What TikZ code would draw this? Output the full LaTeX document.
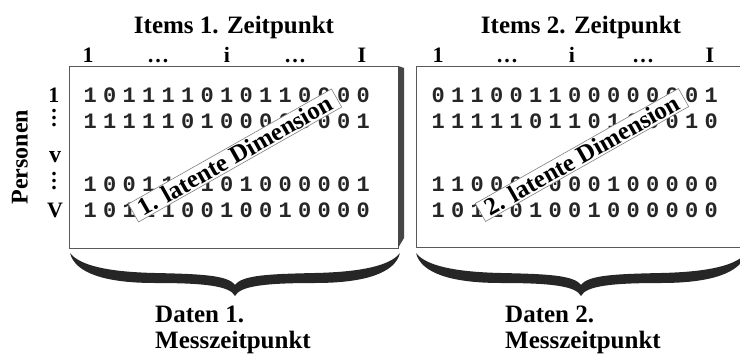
\documentclass[tikz,border=0pt]{standalone}
\usepackage{fontspec}
\setmainfont{Liberation Serif}
\newfontfamily\monof{Liberation Mono}
\newlength\dpitch
\setlength\dpitch{19.5pt}
\def\digs#1{\ifx#1\relax\else\makebox[\dpitch]{#1}\expandafter\digs\fi}
\newcommand\myvdots{\vbox{\baselineskip=7pt\lineskiplimit=0pt\hbox{.}\hbox{.}\hbox{.}}}
\newcommand\bracepath{%
  (0,0) .. controls (5,-20) and (35,-30) .. (85,-30)
  .. controls (135,-30) and (160,-33) .. (165,-43)
  .. controls (170,-33) and (195,-30) .. (245,-30)
  .. controls (295,-30) and (325,-20) .. (330,0)
  .. controls (320,-13) and (290,-19) .. (245,-20)
  .. controls (200,-21) and (172,-22) .. (165,-32)
  .. controls (158,-22) and (130,-21) .. (85,-20)
  .. controls (40,-19) and (10,-13) .. (0,0) -- cycle}
\tikzset{
  hdr/.style={font=\fontsize{22}{22}\selectfont\bfseries, inner sep=0pt, anchor=base},
  ttl/.style={font=\fontsize{25}{25}\selectfont\bfseries, inner sep=0pt, anchor=base},
  btxt/.style={font=\fontsize{25}{25}\selectfont\bfseries, inner sep=0pt, anchor=base west},
  datarow/.style={font=\fontsize{22}{22}\monof\bfseries, text=black!85, inner sep=0pt, anchor=base west},
  lat/.style={font=\fontsize{25}{25}\selectfont\bfseries, fill=white, draw=gray, line width=0.6pt,
              inner xsep=7pt, inner ysep=1.5pt, rotate=29.5},
  frame/.style={draw=gray!70!black, line width=0.8pt},
  bracefill/.style={fill=black!85},
}
\begin{document}
\begin{tikzpicture}[x=1pt,y=1pt]
\useasboundingbox (0,0) rectangle (740,-356);
% frames
\draw[frame] (69,-66) rectangle (398,-248);
\fill[gray!55!black] (398,-66) -- (404,-68) -- (404,-238) -- (398,-248) -- cycle;
\draw[frame] (750,-66) -- (416,-66) -- (416,-247) -- (750,-247);
% titles
\node[ttl] (t1) at (234,-33) {Items 1. Zeitpunkt};
\node[ttl] (t2) at (581,-33) {Items 2. Zeitpunkt};
% column headers
\node[hdr] (a1) at (88,-62) {1};
\node[hdr] (a2) at (158,-62) {…};
\node[hdr] (a3) at (227,-62) {i};
\node[hdr] (a4) at (295,-62) {…};
\node[hdr] (a5) at (362,-62) {I};
\node[hdr] (b1) at (438,-62) {1};
\node[hdr] (b2) at (507,-62) {…};
\node[hdr] (b3) at (572,-62) {i};
\node[hdr] (b4) at (643,-62) {…};
\node[hdr] (b5) at (710,-62) {I};
% row labels
\node[font=\fontsize{24}{24}\selectfont\bfseries, rotate=90, inner sep=0pt] (pers) at (20,-157) {Personen};
\node[hdr] (r1) at (54,-102) {1};
\node[hdr, anchor=center] (r2) at (54,-118) {\myvdots};
\node[hdr, font=\fontsize{24}{24}\selectfont\bfseries] (r3) at (55,-162) {v};
\node[hdr, anchor=center] (r4) at (54,-181) {\myvdots};
\node[hdr] (r5) at (55,-217) {V};
% data box 1
\node[datarow] (d11) at (80.25,-102) {\digs 101111010110000\relax};
\node[datarow] (d12) at (80.25,-128) {\digs 111110100000001\relax};
\node[datarow] (d13) at (80.25,-191) {\digs 100111101000001\relax};
\node[datarow] (d14) at (80.25,-217) {\digs 101110010010000\relax};
% data box 2
\node[datarow] (d21) at (428.3,-102) {\digs 011001100000001\relax};
\node[datarow] (d22) at (428.3,-128) {\digs 111110110100010\relax};
\node[datarow] (d23) at (428.3,-191) {\digs 110000000100000\relax};
\node[datarow] (d24) at (428.3,-217) {\digs 101101001000000\relax};
% latent labels
\node[lat] (lat1) at (235,-155.5) {1. latente Dimension};
\node[lat] (lat2) at (582,-155) {2. latente Dimension};
% braces
\fill[bracefill, shift={(70,-253)}] \bracepath;
\fill[bracefill, shift={(416,-253)}] \bracepath;
% bottom texts
\node[btxt] (m1a) at (155,-322) {Daten 1.};
\node[btxt] (m1b) at (155,-348) {Messzeitpunkt};
\node[btxt] (m2a) at (505,-322) {Daten 2.};
\node[btxt] (m2b) at (505,-348) {Messzeitpunkt};
\end{tikzpicture}
\end{document}
